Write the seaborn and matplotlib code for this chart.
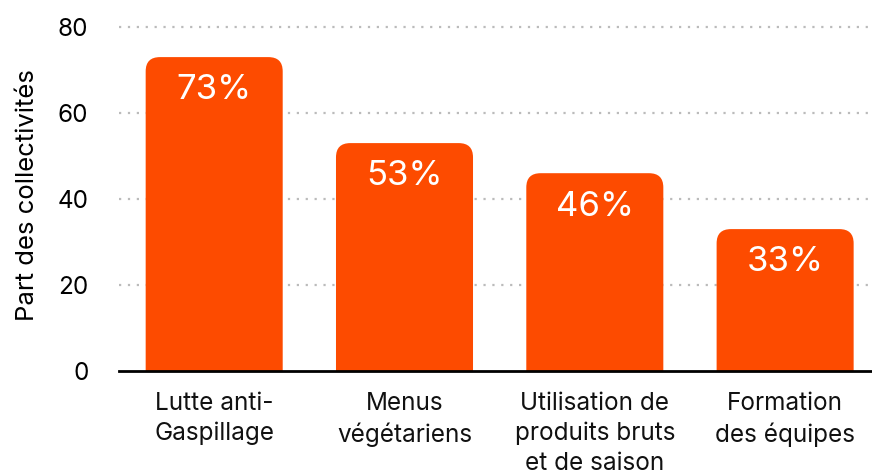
import matplotlib
matplotlib.use('Agg')
import matplotlib.pyplot as plt
import pandas as pd
import seaborn as sns
from matplotlib.patches import FancyBboxPatch

categories = ["Lutte anti-\nGaspillage", "Menus\nvégétariens",
              "Utilisation de\nproduits bruts\net de saison", "Formation\ndes équipes"]
values = [73, 53, 46, 33]
yticks = [0, 20, 40, 60, 80]
ylabel = "Part des collectivités"

BAR_COLOR = "#FD4B00"

df = pd.DataFrame({"action": categories, "part": values})

sns.set_theme(style="white")
plt.rcParams['font.family'] = ['Inter', 'DejaVu Sans']

fig = plt.figure(figsize=(8.72, 4.72), dpi=100)
ax = fig.add_axes([0.1365, 0.214, 0.873, 0.747])

sns.barplot(data=df, x="action", y="part", color=BAR_COLOR, width=0.72,
            saturation=1, ax=ax, zorder=3)

ax.set_ylim(0, 82)
ax.set_xlim(-0.5, 3.5)

# swap the square bars for ones with rounded top corners
for p in list(ax.patches):
    x0, w, h = p.get_x(), p.get_width(), p.get_height()
    p.remove()
    rounded = FancyBboxPatch((x0, -10), w, h + 10,
                             boxstyle="round,pad=0,rounding_size=1",
                             mutation_scale=0.075, mutation_aspect=44,
                             facecolor=BAR_COLOR, edgecolor="none", zorder=3)
    ax.add_patch(rounded)

for i, v in enumerate(values):
    ax.annotate(f"{v}%", xy=(i, v), xytext=(0, -24), textcoords="offset points",
                ha="center", va="center", color="white", fontsize=25, zorder=4)

ax.set_yticks(yticks)
for y in yticks[1:]:
    ax.axhline(y, color="#BBBBBB", linestyle=(0, (1, 3)), linewidth=1.6, zorder=1)

for s in ["top", "right", "left"]:
    ax.spines[s].set_visible(False)
ax.spines["bottom"].set_color("black")
ax.spines["bottom"].set_linewidth(2)
ax.spines["bottom"].set_zorder(5)

ax.tick_params(axis="y", length=0, labelsize=17.5, pad=22, labelcolor="black")
ax.tick_params(axis="x", length=0, labelsize=17.5, pad=15, labelcolor="#111111")
for t in ax.get_xticklabels():
    t.set_linespacing(1.38)

ax.set_xlabel("")
ax.set_ylabel(ylabel, fontsize=18.5, labelpad=13, color="black")
ax.grid(False)

fig.savefig("out.png", dpi=100)
